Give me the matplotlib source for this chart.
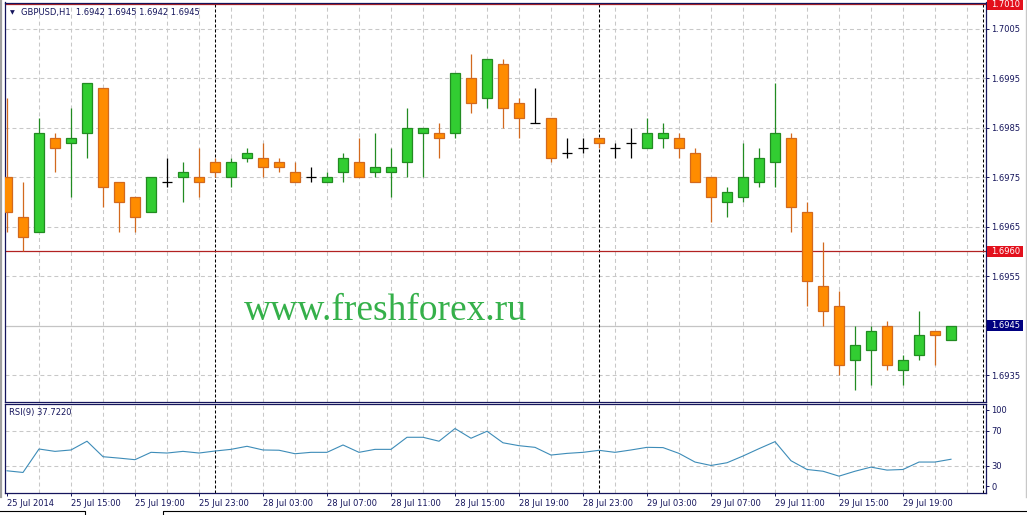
import matplotlib
matplotlib.use('Agg')
import matplotlib.pyplot as plt
import matplotlib.transforms as mtransforms
from matplotlib.lines import Line2D
from matplotlib.patches import Rectangle

# GBPUSD H1 candles, 25 Jul 2014 11:00 .. 29 Jul 2014 20:00
opens = [1.6975, 1.6967, 1.6964, 1.6983, 1.6982, 1.6984, 1.6993, 1.6974, 1.6971, 1.6968,
         1.6974, 1.6975, 1.6975, 1.6978, 1.6975, 1.6979, 1.6979, 1.6978, 1.6976, 1.6975,
         1.6974, 1.6976, 1.6978, 1.6976, 1.6976, 1.6978, 1.6984, 1.6984, 1.6984, 1.6995,
         1.6991, 1.6998, 1.6990, 1.6986, 1.6987, 1.6980, 1.6981, 1.6983, 1.6981, 1.6982,
         1.6981, 1.6983, 1.6983, 1.6980, 1.6975, 1.6970, 1.6971, 1.6974, 1.6978, 1.6983,
         1.6968, 1.6953, 1.6949, 1.6938, 1.6940, 1.6945, 1.6936, 1.6939, 1.6944, 1.6942]
highs = [1.6991, 1.6974, 1.6987, 1.6984, 1.6989, 1.6994, 1.6993, 1.6974, 1.6971, 1.6975,
         1.6979, 1.6978, 1.6981, 1.6979, 1.6979, 1.6981, 1.6982, 1.6979, 1.6978, 1.6977,
         1.6976, 1.6980, 1.6983, 1.6984, 1.6981, 1.6989, 1.6985, 1.6986, 1.6996, 1.7000,
         1.6999, 1.6999, 1.6991, 1.6993, 1.6987, 1.6983, 1.6983, 1.6983, 1.6982, 1.6985,
         1.6987, 1.6986, 1.6984, 1.6981, 1.6975, 1.6973, 1.6982, 1.6981, 1.6994, 1.6984,
         1.6970, 1.6962, 1.6952, 1.6945, 1.6945, 1.6946, 1.6939, 1.6948, 1.6944, 1.6945]
lows = [1.6964, 1.6960, 1.6964, 1.6976, 1.6971, 1.6979, 1.6969, 1.6964, 1.6964, 1.6968,
        1.6973, 1.6970, 1.6971, 1.6975, 1.6973, 1.6978, 1.6975, 1.6976, 1.6974, 1.6974,
        1.6974, 1.6974, 1.6975, 1.6975, 1.6971, 1.6975, 1.6975, 1.6979, 1.6983, 1.6988,
        1.6989, 1.6985, 1.6983, 1.6986, 1.6978, 1.6979, 1.6980, 1.6981, 1.6979, 1.6979,
        1.6981, 1.6981, 1.6979, 1.6974, 1.6966, 1.6967, 1.6970, 1.6973, 1.6973, 1.6964,
        1.6949, 1.6945, 1.6935, 1.6932, 1.6933, 1.6936, 1.6933, 1.6938, 1.6937, 1.6942]
closes = [1.6968, 1.6963, 1.6984, 1.6981, 1.6983, 1.6994, 1.6973, 1.6970, 1.6967, 1.6975,
          1.6974, 1.6976, 1.6974, 1.6976, 1.6978, 1.6980, 1.6977, 1.6977, 1.6974, 1.6975,
          1.6975, 1.6979, 1.6975, 1.6977, 1.6977, 1.6985, 1.6985, 1.6983, 1.6996, 1.6990,
          1.6999, 1.6989, 1.6987, 1.6986, 1.6979, 1.6980, 1.6981, 1.6982, 1.6981, 1.6982,
          1.6984, 1.6984, 1.6981, 1.6974, 1.6971, 1.6972, 1.6975, 1.6979, 1.6984, 1.6969,
          1.6954, 1.6948, 1.6937, 1.6941, 1.6944, 1.6937, 1.6938, 1.6943, 1.6943, 1.6945]

rsi = [24.5, 22.6, 49.4, 46.7, 48.3, 58.3, 40.6, 39.0, 37.2, 45.6,
       44.8, 46.7, 44.8, 47.1, 49.0, 52.5, 48.3, 48.0, 44.0, 45.6,
       45.6, 54.0, 45.6, 49.0, 49.0, 62.8, 62.8, 58.3, 72.8, 61.7,
       69.7, 56.5, 53.2, 51.3, 42.5, 44.4, 45.6, 47.9, 45.6, 48.3,
       51.3, 51.0, 44.4, 34.5, 30.6, 33.7, 41.4, 49.8, 57.8, 36.0,
       26.0, 24.0, 18.4, 24.0, 28.7, 25.3, 26.0, 34.5, 34.5, 37.7]

time_labels = ['25 Jul 2014', '25 Jul 15:00', '25 Jul 19:00', '25 Jul 23:00',
               '28 Jul 03:00', '28 Jul 07:00', '28 Jul 11:00', '28 Jul 15:00',
               '28 Jul 19:00', '28 Jul 23:00', '29 Jul 03:00', '29 Jul 07:00',
               '29 Jul 11:00', '29 Jul 15:00', '29 Jul 19:00']
label_idx = list(range(0, 60, 4))
separators = [13, 37]          # day starts: 28 Jul 00:00, 29 Jul 00:00
price_ticks = [1.6935, 1.6945, 1.6955, 1.6965, 1.6975, 1.6985, 1.6995, 1.7005]
red_levels = [1.6960, 1.7010]
bid = 1.6945
rsi_levels = [30, 70]
rsi_ticks = [7, 30, 70, 94]
rsi_tick_labels = ['0', '30', '70', '100']

# colours
navy = '#15155c'
grid_c = '#c8c8c8'
bull_body, bull_edge = '#32cd32', '#228b22'
bear_body, bear_edge = '#ff8c00', '#d2691e'
red_line = '#b22222'
red_box = '#e3101c'
rsi_c = '#3d8cb8'

W, H = 1027, 515
fig = plt.figure(figsize=(W / 100, H / 100), dpi=100)
fig.patch.set_facecolor('white')


def px_axes(left, top, right, bottom):
    return fig.add_axes([left / W, 1 - bottom / H, (right - left) / W, (bottom - top) / H])


ax = px_axes(5, 2.5, 986, 401.5)
ar = px_axes(5, 403.5, 986, 492.5)

xmin, xmax = (5 - 7) / 16, (986 - 7) / 16
for a in (ax, ar):
    a.set_xlim(xmin, xmax)
    for s in a.spines.values():
        s.set_color(navy)
        s.set_linewidth(0.9)
    # grid every 2 bars
    for gx in range(2, 61, 2):
        a.axvline(gx, color=grid_c, lw=0.75, dashes=(3.8, 2.9), zorder=0)
    for sx in separators:
        a.axvline(sx, color='black', lw=0.75, dashes=(2.9, 1.9), zorder=1)
    a.axvline(61.0, color='black', lw=0.75, dashes=(2.9, 1.9), zorder=1)

# ---- main price panel
ax.set_ylim(1.692964, 1.701036)
for p in price_ticks:
    if p == bid:
        continue
    ax.axhline(p, color=grid_c, lw=0.75, dashes=(3.8, 2.9), zorder=0)
ax.axhline(bid, color='#c4c4c4', lw=0.9, zorder=0)
for lv in red_levels:
    ax.axhline(lv, color=red_line, lw=0.9, zorder=2)

ax.yaxis.tick_right()
ax.set_yticks(price_ticks)
ax.set_yticklabels(['' if p == bid else f'{p:.4f}' for p in price_ticks])
ax.tick_params(axis='y', length=2, width=0.7, colors=navy, labelsize=6, pad=2)
ax.set_xticks([])

bw = 0.58
for i, (o, h, l, c) in enumerate(zip(opens, highs, lows, closes)):
    if c > o:
        fc, ec = bull_body, bull_edge
    elif c < o:
        fc, ec = bear_body, bear_edge
    else:
        fc, ec = None, 'black'
    ax.vlines(i, l, h, color=ec, lw=0.9, zorder=3)
    if fc is None:
        ax.hlines(o, i - 0.33, i + 0.33, color='black', lw=0.9, zorder=4)
    else:
        ax.bar(i, abs(c - o), bottom=min(o, c), width=bw, color=fc,
               edgecolor=ec, linewidth=0.9, zorder=4)

# price boxes on the scale
trans = mtransforms.blended_transform_factory(ax.transAxes, ax.transData)
box_h = 10.5 * 0.00002023
box_w = 36 / 981
for val, col in [(1.6960, red_box), (1.7010, red_box), (bid, '#000080')]:
    ax.add_patch(Rectangle((1 + 1 / 981, val - box_h / 2), box_w, box_h, transform=trans,
                           facecolor=col, edgecolor='none', clip_on=False, zorder=5))
    ax.text(1 + 5 / 981, val, f'{val:.4f}', transform=trans, color='white', fontsize=6,
            ha='left', va='center', clip_on=False, zorder=6)

# ---- RSI panel
ar.set_ylim(-0.3, 101.4)
for lv in rsi_levels:
    ar.axhline(lv, color=grid_c, lw=0.75, dashes=(3.8, 2.9), zorder=0)
ar.plot(range(len(rsi)), rsi, color=rsi_c, lw=0.8, zorder=3)
ar.yaxis.tick_right()
ar.set_yticks(rsi_ticks)
ar.set_yticklabels(rsi_tick_labels)
ar.tick_params(axis='y', length=2, width=0.7, colors=navy, labelsize=6, pad=2)
ar.set_xticks(label_idx)
ar.set_xticklabels(time_labels, ha='left')
ar.tick_params(axis='x', length=2, width=0.7, colors=navy, labelsize=6, pad=2.5)

# ---- texts
fig.text(10 / W, 1 - 12.5 / H, '\u25bc', fontsize=4.5, color=navy, ha='left', va='center')
fig.text(21 / W, 1 - 12.3 / H, 'GBPUSD,H1  1.6942 1.6945 1.6942 1.6945', fontsize=6,
         color=navy, ha='left', va='center')
fig.text(9 / W, 1 - 413 / H, 'RSI(9) 37.7220', fontsize=6, color=navy, ha='left', va='center')
fig.text(385.5 / W, 1 - 320 / H, 'www.freshforex.ru', family='Liberation Serif', fontsize=27,
         color='#35b04a', ha='center', va='baseline')

# window borders / tabs
def fig_line(xs, ys, color, lw):
    fig.add_artist(Line2D([x / W for x in xs], [1 - y / H for y in ys], color=color,
                          lw=lw, transform=fig.transFigure))


fig_line([1.2, 1.2], [0, 497], '#a0a0a0', 1.6)
fig_line([1025.5, 1025.5], [0, 497], '#c8c8c8', 1.0)
fig_line([0, 85, 85], [511, 511, 515], 'black', 0.8)
fig_line([163, 163, 1027], [515, 511, 511], 'black', 0.8)

fig.savefig('out.png', dpi=100)
